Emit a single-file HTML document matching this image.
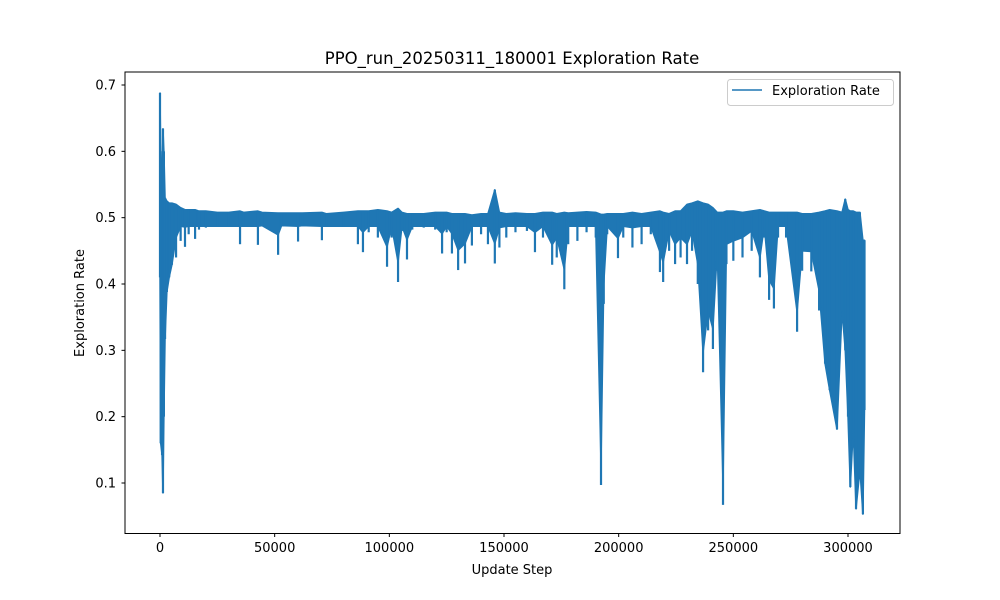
<!DOCTYPE html>
<html><head><meta charset="utf-8"><style>
html,body{margin:0;padding:0;background:#fff;}
svg{display:block;font-family:"DejaVu Sans","Liberation Sans",sans-serif;}
</style></head><body>
<svg id="chart" width="1000" height="600" viewBox="0 0 1000 600">
<rect x="0" y="0" width="1000" height="600" fill="#fff"/>
<text x="512" y="64" font-size="16.5" text-anchor="middle" fill="#000">PPO_run_20250311_180001 Exploration Rate</text>
<g id="plot"></g>
<rect x="125" y="72" width="775" height="461.5" fill="none" stroke="#000" stroke-width="1"/>
<g id="xticks"></g>
<g id="yticks"></g>
<text x="512" y="574" font-size="13" text-anchor="middle">Update Step</text>
<text x="0" y="0" font-size="13" text-anchor="middle" transform="translate(84,303) rotate(-90)">Exploration Rate</text>
<g>
<rect x="727.5" y="79.5" width="166" height="26" rx="3" fill="#fff" fill-opacity="0.8" stroke="#ccc"/>
<line x1="732" y1="90" x2="762" y2="90" stroke="#1f77b4" stroke-width="1.6"/>
<text x="772" y="95" font-size="13">Exploration Rate</text>
</g>
</svg>
<script>
const steps=[0,300,900,1300,1700,2200,3000,4000,5200,7000,9000,10900,12500,15300,17000,20000,25000,30000,34900,36500,42700,44500,51500,53000,60200,62000,70600,72500,80000,86300,88500,91000,95000,99000,101000,103800,105500,107700,110000,115000,120000,123000,125000,127300,130000,133000,136000,140000,143000,146000,148000,151000,155000,160000,163500,167000,171000,173000,176300,178000,182000,186000,190000,192300,193500,195000,199700,202000,206000,210000,214000,218000,219400,222000,224600,227000,229800,232000,234500,236800,239000,241100,243000,245500,247000,250000,254000,258000,261600,263500,265600,267700,269500,273000,277800,280000,284000,287400,290000,292000,295200,297400,298800,300000,301000,302300,303500,305200,306500,307200];
const hiValues=[0.688,0.60,0.55,0.634,0.60,0.53,0.525,0.522,0.522,0.52,0.515,0.512,0.512,0.512,0.51,0.51,0.508,0.508,0.51,0.508,0.51,0.508,0.507,0.507,0.507,0.507,0.508,0.506,0.508,0.51,0.51,0.51,0.512,0.51,0.508,0.514,0.508,0.506,0.506,0.506,0.508,0.508,0.508,0.506,0.506,0.506,0.504,0.506,0.506,0.542,0.508,0.506,0.507,0.506,0.506,0.508,0.508,0.506,0.508,0.507,0.508,0.509,0.508,0.505,0.505,0.506,0.506,0.506,0.508,0.506,0.508,0.51,0.508,0.506,0.51,0.51,0.52,0.522,0.525,0.522,0.52,0.515,0.508,0.508,0.51,0.51,0.508,0.51,0.512,0.51,0.508,0.508,0.508,0.508,0.508,0.506,0.506,0.508,0.51,0.512,0.51,0.508,0.528,0.512,0.51,0.51,0.508,0.508,0.466,0.466];
const loValues=[0.41,0.16,0.142,0.085,0.20,0.317,0.388,0.41,0.429,0.44,0.465,0.456,0.475,0.468,0.482,0.485,0.487,0.487,0.46,0.487,0.459,0.488,0.444,0.488,0.464,0.488,0.466,0.487,0.486,0.46,0.448,0.478,0.47,0.426,0.47,0.403,0.48,0.437,0.482,0.485,0.482,0.446,0.478,0.446,0.421,0.431,0.458,0.475,0.46,0.431,0.455,0.47,0.478,0.48,0.448,0.47,0.429,0.44,0.392,0.46,0.465,0.478,0.47,0.097,0.37,0.475,0.439,0.47,0.455,0.46,0.475,0.418,0.403,0.45,0.43,0.44,0.43,0.45,0.40,0.267,0.33,0.302,0.42,0.067,0.43,0.435,0.44,0.45,0.41,0.47,0.376,0.363,0.47,0.47,0.328,0.42,0.419,0.36,0.28,0.24,0.181,0.36,0.30,0.20,0.094,0.18,0.061,0.12,0.053,0.21];
const xTicks=[0,50000,100000,150000,200000,250000,300000];
const yTicks=[0.1,0.2,0.3,0.4,0.5,0.6,0.7];

const NS="http://www.w3.org/2000/svg";
const xScale=s=>160+s*(688/300000);
const yScale=v=>483-(v-0.1)*663.33;
const C='#1f77b4';

const plot=document.getElementById('plot');
// band: lower edge clamped near baseline except in the dense early/late regions
const bandLo=(i)=>{const s=steps[i];if(s<6000||s>=288000)return loValues[i];return Math.max(loValues[i],Math.min(0.487,loValues[i]+0.03));};
let pts=[];
for(let i=0;i<steps.length;i++)pts.push(xScale(steps[i]).toFixed(2)+','+yScale(hiValues[i]).toFixed(2));
for(let i=steps.length-1;i>=0;i--)pts.push(xScale(steps[i]).toFixed(2)+','+yScale(bandLo(i)).toFixed(2));
const band=document.createElementNS(NS,'polygon');
band.setAttribute('points',pts.join(' '));
band.setAttribute('fill',C);
band.setAttribute('stroke',C);
band.setAttribute('stroke-width','1.5');
band.setAttribute('stroke-linejoin','round');


plot.appendChild(band);
// narrow spikes from each point's high to low
for(let i=0;i<steps.length;i++){
  const x=xScale(steps[i]);
  const l=document.createElementNS(NS,'line');
  l.setAttribute('x1',x);l.setAttribute('x2',x);
  l.setAttribute('y1',yScale(hiValues[i]));l.setAttribute('y2',yScale(loValues[i]));
  l.setAttribute('stroke',C);l.setAttribute('stroke-width','2.2');
  
  
  plot.appendChild(l);
}

const xg=document.getElementById('xticks');
xTicks.forEach(t=>{
  const x=xScale(t);
  const l=document.createElementNS(NS,'line');
  l.setAttribute('x1',x);l.setAttribute('x2',x);l.setAttribute('y1',533.5);l.setAttribute('y2',537);
  l.setAttribute('stroke','#000');
  
  
  xg.appendChild(l);
  const tx=document.createElementNS(NS,'text');
  tx.setAttribute('x',x);tx.setAttribute('y',552);tx.setAttribute('font-size','13');tx.setAttribute('text-anchor','middle');
  tx.textContent=String(t);
  
  
  xg.appendChild(tx);
});
const yg=document.getElementById('yticks');
yTicks.forEach(t=>{
  const y=yScale(t);
  const l=document.createElementNS(NS,'line');
  l.setAttribute('x1',121.5);l.setAttribute('x2',125);l.setAttribute('y1',y);l.setAttribute('y2',y);
  l.setAttribute('stroke','#000');
  
  
  yg.appendChild(l);
  const tx=document.createElementNS(NS,'text');
  tx.setAttribute('x',116);tx.setAttribute('y',y+4.5);tx.setAttribute('font-size','13');tx.setAttribute('text-anchor','end');
  tx.textContent=t.toFixed(1);
  
  
  yg.appendChild(tx);
});
</script>
</body></html>
